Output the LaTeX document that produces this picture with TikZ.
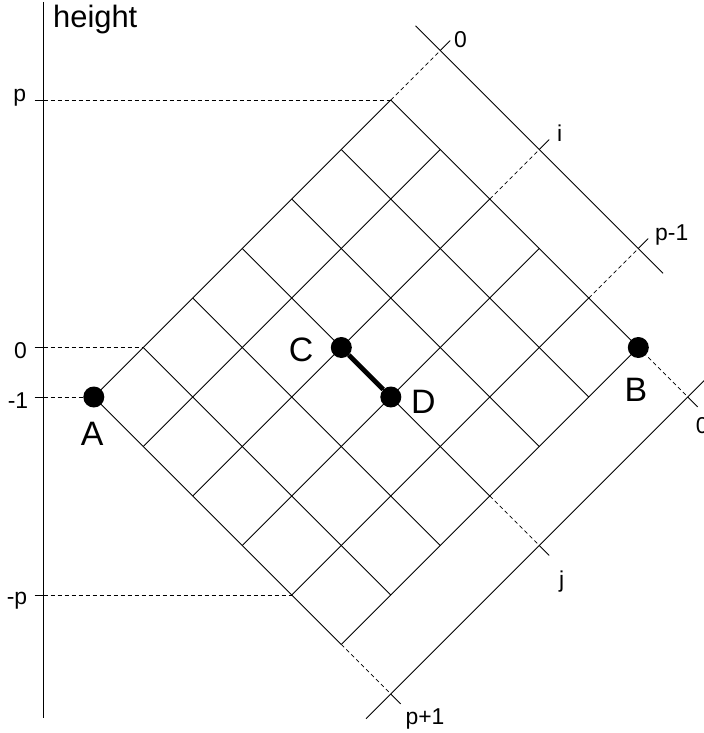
\documentclass[tikz,border=0pt]{standalone}
\usepackage{fontspec}
\setmainfont{Liberation Sans}
\begin{document}
\begin{tikzpicture}[x=1bp,y=-1bp,
  gridline/.style={line width=0.9bp},
  dashline/.style={line width=0.7bp, dash pattern=on 4bp off 3bp},
  axisline/.style={line width=1.3bp},
  dot/.style={circle, fill=black, inner sep=0pt, minimum size=21bp},
  small/.style={font=\fontsize{23}{27}\selectfont, inner sep=0pt, anchor=base},
  big/.style={font=\fontsize{34}{39}\selectfont, inner sep=0pt, anchor=base},
]
\useasboundingbox (0,0) rectangle (704,733);
% grid coordinates (a: up-right, b: down-right)
\begin{scope}[shift={(93.8,397)}, x={(49.5bp,49.5bp)}, y={(49.5bp,-49.5bp)}]
  \foreach \a in {0,...,6} {\foreach \b in {0,...,5} {\coordinate (g-\a-\b) at (\a,\b);}}
  \foreach \b in {0,2,4} {\coordinate (r-\b) at (7,\b); \coordinate (rt-\b) at (7.2,\b);}
  \coordinate (r-s) at (7,-0.5); \coordinate (r-e) at (7,4.5);
  \foreach \a in {0,3,6} {\coordinate (q-\a) at (\a,6); \coordinate (qt-\a) at (\a,6.2);}
  \coordinate (q-s) at (-0.5,6); \coordinate (q-e) at (6.5,6);
\end{scope}
% grid
\foreach \b in {0,...,5} {\draw[gridline] (g-0-\b) -- (g-6-\b);}
\foreach \a in {0,...,6} {\draw[gridline] (g-\a-0) -- (g-\a-5);}
% index lines
\draw[gridline] (r-s) -- (r-e);
\draw[gridline] (q-s) -- (q-e);
\foreach \b in {0,2,4} {\draw[dashline] (g-6-\b) -- (r-\b); \draw[gridline] (r-\b) -- (rt-\b);}
\foreach \a in {0,3,6} {\draw[dashline] (g-\a-5) -- (q-\a); \draw[gridline] (q-\a) -- (qt-\a);}
% axis
\coordinate (ax-top) at (43.5,2);
\coordinate (ax-bot) at (43.5,718);
\draw[axisline] (ax-top) -- (ax-bot);
\coordinate (ax-p) at (ax-top |- g-6-0);
\coordinate (ax-z) at (ax-top |- g-1-0);
\coordinate (ax-m) at (ax-top |- g-0-0);
\coordinate (ax-mp) at (ax-top |- g-0-4);
\coordinate (tk-p) at ([xshift=-9bp]ax-p);
\coordinate (tk-z) at ([xshift=-9bp]ax-z);
\coordinate (tk-m) at ([xshift=-9bp]ax-m);
\coordinate (tk-mp) at ([xshift=-9bp]ax-mp);
\draw[gridline] (tk-p) -- (ax-p);
\draw[gridline] (tk-z) -- (ax-z);
\draw[gridline] (tk-m) -- (ax-m);
\draw[gridline] (tk-mp) -- (ax-mp);
\draw[dashline] (ax-p) -- (g-6-0);
\draw[dashline] (ax-z) -- (g-1-0);
\draw[dashline] (ax-m) -- (g-0-0);
\draw[dashline] (ax-mp) -- (g-0-4);
% points
\node[dot] (A) at (g-0-0) {};
\node[dot] (B) at (g-6-5) {};
\node[dot] (C) at (g-3-2) {};
\node[dot] (D) at (g-3-3) {};
\draw[line width=4.8bp] (C) -- (D);
% labels
\node[font=\fontsize{31}{36}\selectfont, inner sep=0pt, anchor=base west] (ht) at (53,27.5) {height};
\node[big] (lA) at (92.2,445) {A};
\node[big] (lB) at (635.8,401.7) {B};
\node[big] (lC) at (301,361) {C};
\node[big] (lD) at (423.3,413.3) {D};
\node[small] (lp) at (19.7,101.5) {p};
\node[small] (lz) at (20.5,358.3) {0};
\node[small] (lm) at (18,408) {-1};
\node[small] (lmp) at (17,604.5) {-p};
\node[small] (i0) at (460.5,47.3) {0};
\node[small] (ii) at (559.7,141.7) {i};
\node[small] (ip) at (671.7,240) {p-1};
\node[small] (jp) at (425,724.3) {p+1};
\node[small] (jj) at (561.7,587) {j};
\node[small] (j0) at (702.2,433.3) {0};
\end{tikzpicture}
\end{document}
